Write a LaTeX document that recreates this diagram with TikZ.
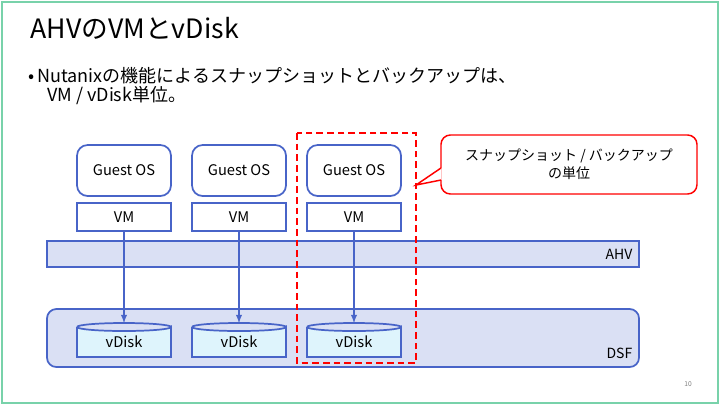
\documentclass[tikz,border=0pt]{standalone}
\usepackage{fontspec}
\setmainfont{Noto Sans CJK JP}
\begin{document}
\begin{tikzpicture}[x=0.75pt,y=-0.75pt]
\definecolor{bc}{RGB}{72,100,200}
\definecolor{lav}{RGB}{218,224,244}
\definecolor{cyl}{RGB}{222,244,252}
\definecolor{frm}{RGB}{120,210,170}
\tikzset{bl/.style={draw=bc,line width=1.3pt},arr/.style={draw=bc,line width=1.1pt,-latex},
  gos/.style={bl,fill=white,rounded corners=8pt,minimum width=94*0.75pt,minimum height=51*0.75pt,inner sep=0pt,font=\fontsize{11}{12}\selectfont},
  vmb/.style={bl,fill=white,minimum width=94*0.75pt,minimum height=28*0.75pt,inner sep=0pt,font=\fontsize{11}{12}\selectfont}}
\useasboundingbox (0,0) rectangle (720,405);
\draw[draw=frm,line width=0.8pt] (2,2) rectangle (718,403);
\node[anchor=west,font=\fontsize{20}{22}\selectfont] (title) at (26,28) {AHVのVMとvDisk};
\node[anchor=north west,align=left,font=\fontsize{13.5}{15.5}\selectfont,inner sep=0pt] (bul) at (28,67) {•\,Nutanixの機能によるスナップショットとバックアップは、\\[-1pt]\hspace*{1.05em}VM / vDisk単位。};
\draw[bl,fill=lav] (47,241) rectangle (639,267);
\node[anchor=east,font=\fontsize{10.5}{12}\selectfont] (ahv) at (637,254) {AHV};
\draw[bl,fill=lav,rounded corners=7pt] (47,309) rectangle (639,367);
\node[anchor=east,font=\fontsize{10.5}{12}\selectfont] (dsf) at (637,353) {DSF};
\foreach \i/\x in {1/124,2/239,3/354}{
  \node[gos] (g\i) at (\x,170.5) {Guest OS};
  \node[vmb] (v\i) at (\x,217) {VM};
  \draw[bl,fill=cyl] (\x-47,327) -- (\x-47,357) -- (\x+47,357) -- (\x+47,327) arc[start angle=0,end angle=180,x radius=47,y radius=4];
  \draw[bl] (\x-47,327) arc[start angle=180,end angle=360,x radius=47,y radius=4];
  \node[font=\fontsize{11}{12}\selectfont] (d\i) at (\x,342) {vDisk};
  \coordinate (t\i) at (\x,323);
  \draw[arr] (v\i.south) -- (t\i);
}
\draw[red,line width=1.4pt,dash pattern=on 5pt off 3pt] (297,133) rectangle (416,363);
\coordinate (tip) at (416,185);
\draw[red,line width=1.1pt,fill=white,rounded corners=7pt] (441,135) rectangle (697,194);
\fill[white] (441.5,168) -- (tip) -- (441.5,180) -- cycle;
\draw[red,line width=1.1pt] (441,168) -- (tip) -- (441,180);
\node[align=center,font=\fontsize{10.5}{13.5}\selectfont] (cap) at (569,164) {スナップショット / バックアップ\\の単位};
\node[font=\fontsize{5}{6}\selectfont,gray] (pg) at (688,384) {10};
\end{tikzpicture}
\end{document}
